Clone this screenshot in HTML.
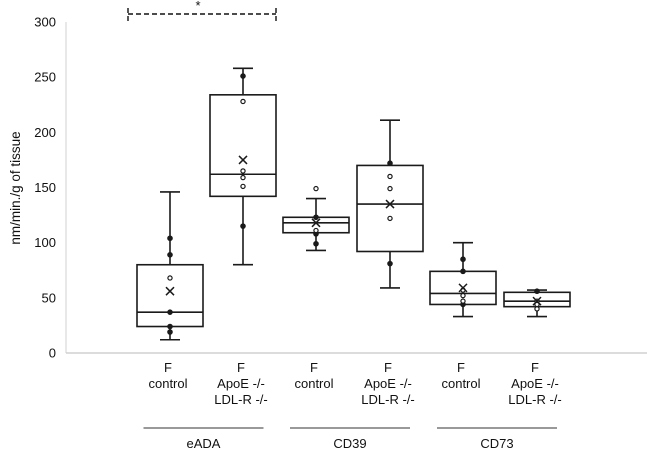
<!DOCTYPE html>
<html><head><meta charset="utf-8"><style>
body{margin:0;background:#fff;}
svg{display:block;font-family:"Liberation Sans",sans-serif;}
</style></head><body>
<svg id="chart" width="647" height="451" viewBox="0 0 647 451">
<line x1="66" y1="353" x2="647" y2="353" stroke="#c8c8c8" stroke-width="1.2"/>
<line x1="66" y1="22" x2="66" y2="353" stroke="#d0d0d0" stroke-width="1"/>
<text transform="translate(20,188) rotate(-90)" text-anchor="middle" font-size="13.5" fill="#111">nm/min./g of tissue</text>
<g id="ticks"></g>
<g id="boxes"></g>
<g id="labels"></g>
<g>
<path d="M128,8 V21 M128,14 H276 M276,8 V21" stroke="#111" stroke-width="1.4" stroke-dasharray="5,3" fill="none"/>
<text x="198" y="10" font-size="13" text-anchor="middle" fill="#111">*</text>
</g>
</svg>
<script>
const yTicks=[0,50,100,150,200,250,300];
const centers=[170,243,316,390,463,537];
const whiskLo=[12,80,93,59,33,33];
const q1=[24,142,109,92,44,42];
const med=[37,162,118,135,54,47];
const q3=[80,234,123,170,74,55];
const whiskHi=[146,258,140,211,100,57];
const means=[56,175,118,135,59,47];
const filledPts=[[104,89,37,24,19],[251,115],[123,108,99],[172,81],[85,74,44],[56]];
const openPts=[[68],[228,165,159,151],[149,111],[160,149,122],[57,52,47],[47,44,40]];
const catLines=[["F","control"],["F","ApoE -/-","LDL-R -/-"],["F","control"],["F","ApoE -/-","LDL-R -/-"],["F","control"],["F","ApoE -/-","LDL-R -/-"]];
const groups=["eADA","CD39","CD73"];
const NS="http://www.w3.org/2000/svg";
const y=v=>353-v*331/300;
function mk(tag,attrs,parent){const e=document.createElementNS(NS,tag);for(const k in attrs)e.setAttribute(k,attrs[k]);parent.appendChild(e);return e;}
const tg=document.getElementById('ticks');
yTicks.forEach(t=>{const e=mk('text',{x:56,y:y(t)+4.5,'text-anchor':'end','font-size':'13',fill:'#111'},tg);e.textContent=t;

});
const bg=document.getElementById('boxes');
const hw=33;
centers.forEach((c,i)=>{
 const g=mk('g',{stroke:'#1a1a1a','stroke-width':'1.6',fill:'none'},bg);
 
 
 mk('line',{x1:c,y1:y(whiskHi[i]),x2:c,y2:y(q3[i])},g);
 mk('line',{x1:c,y1:y(q1[i]),x2:c,y2:y(whiskLo[i])},g);
 mk('line',{x1:c-10,y1:y(whiskHi[i]),x2:c+10,y2:y(whiskHi[i])},g);
 mk('line',{x1:c-10,y1:y(whiskLo[i]),x2:c+10,y2:y(whiskLo[i])},g);
 mk('rect',{x:c-hw,y:y(q3[i]),width:2*hw,height:y(q1[i])-y(q3[i]),fill:'#fff'},g);
 mk('line',{x1:c-hw,y1:y(med[i]),x2:c+hw,y2:y(med[i])},g);
 filledPts[i].forEach(v=>mk('circle',{cx:c,cy:y(v),r:2.3,fill:'#1a1a1a','stroke-width':'1'},g));
 openPts[i].forEach(v=>mk('circle',{cx:c,cy:y(v),r:2.1,fill:'#fff','stroke-width':'1.2'},g));
 const m=y(means[i]);
 mk('path',{d:`M${c-4},${m-4}L${c+4},${m+4}M${c+4},${m-4}L${c-4},${m+4}`,'stroke-width':'1.5'},g);
});
const lg=document.getElementById('labels');
centers.forEach((c,i)=>{catLines[i].forEach((s,j)=>{const e=mk('text',{x:c-2,y:372+j*16,'text-anchor':'middle','font-size':'13',fill:'#111'},lg);e.textContent=s;

});});
groups.forEach((gname,k)=>{const a=centers[2*k],b=centers[2*k+1];const mid=(a+b)/2-3;
 const l=mk('line',{x1:mid-60,y1:428,x2:mid+60,y2:428,stroke:'#333','stroke-width':'1'},lg);
 
 
 const t=mk('text',{x:mid,y:448,'text-anchor':'middle','font-size':'13',fill:'#111'},lg);t.textContent=gname;
 
 });
</script>
</body></html>
